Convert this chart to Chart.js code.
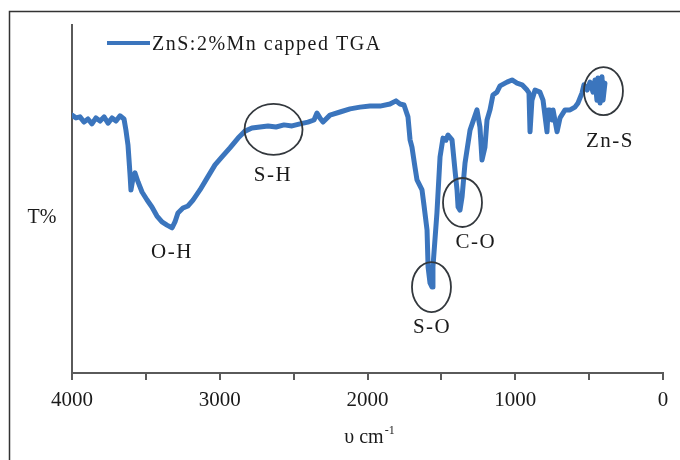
<!DOCTYPE html>
<html>
<head>
<meta charset="utf-8">
<script src="https://cdn.jsdelivr.net/npm/chart.js@4.4.1/dist/chart.umd.min.js"></script>
<style>
  html, body { margin: 0; padding: 0; background: #ffffff; }
  #wrap { width: 680px; height: 460px; position: relative; }
</style>
</head>
<body>
<div id="wrap"><canvas id="c" width="680" height="460"></canvas></div>
<script>
// ---- Data ----
const seriesName = 'ZnS:2%Mn capped TGA';
const wavenumber = [4000,3973,3946,3919,3892,3865,3838,3810,3783,3756,3729,3702,3675,3648,3635,3621,3614,3607,3601,3587,3574,3553,3526,3492,3459,3425,3391,3357,3323,3303,3283,3249,3215,3181,3134,3086,3032,2985,2931,2876,2829,2782,2728,2673,2619,2565,2511,2457,2403,2362,2342,2322,2301,2254,2186,2118,2051,1983,1915,1848,1807,1780,1753,1726,1712,1699,1679,1665,1631,1618,1597,1590,1577,1563,1557,1530,1509,1489,1469,1455,1428,1408,1394,1387,1374,1360,1340,1306,1259,1239,1225,1205,1191,1171,1151,1124,1103,1056,1022,988,954,920,907,900,887,866,833,812,785,778,765,751,744,717,697,663,629,596,575,548,535,514,494,474,460,447,440,426,413,406,393];
const transmittance = [74.1,73.3,73.6,72.1,73.0,71.6,73.3,72.4,73.6,71.8,73.3,72.4,73.9,73.0,69.8,65.5,61.2,56.9,52.6,56.0,57.5,54.9,52.0,49.7,47.7,45.1,43.4,42.5,41.7,43.4,46.0,47.4,48.0,49.7,52.6,56.0,59.8,62.1,64.7,67.5,69.5,70.4,70.7,71.0,70.7,71.3,71.0,71.6,72.1,72.7,74.7,73.3,72.1,74.1,75.0,75.9,76.4,76.7,76.7,77.3,78.2,77.3,77.0,73.6,67.0,64.9,59.2,55.5,52.6,48.3,41.1,30.5,25.9,24.7,30.5,46.0,62.1,67.5,66.9,68.4,67.0,58.3,52.6,47.7,46.8,50.6,60.3,69.8,75.6,70.7,61.2,64.9,72.7,75.6,79.9,80.7,82.5,83.6,84.2,83.3,82.8,81.3,80.5,69.3,78.4,81.3,80.7,78.4,69.3,75.6,75.6,72.7,75.6,69.3,73.3,75.6,75.6,76.4,77.6,80.5,82.8,81.3,83.6,80.7,84.2,78.4,84.8,77.6,85.1,78.4,83.3];
const xTickValues = [4000,3500,3000,2500,2000,1500,1000,500,0];
const xTickLabels = ['4000','','3000','','2000','','1000','','0'];
// Annotated bands: label, circle centre (wavenumber, T%), label anchor (wavenumber, T%)
const bandLabels = ['O-H','S-H','S-O','C-O','Zn-S'];
const bandCircled = [false,true,true,true,true];
const circleX = [null,2636,1567,1357,403];
const circleY = [null,70.0,24.7,49.0,81.0];
const labelX = [3323,2640,1563,1266,359];
const labelY = [34.5,56.9,13.2,37.6,66.4];

// ---- Styles ----
const lineColor = '#3b75bd';
const axisColor = '#5a5a5a';
const textColor = '#1a1a1a';
const serif = "'Liberation Serif', 'DejaVu Serif', serif";
const circleRx = [0,29,19.5,19.5,19.5];
const circleRy = [0,25.5,25,24.5,24];

const decorPlugin = {
  id: 'decor',
  beforeDraw(chart) {
    const ctx = chart.ctx;
    ctx.save();
    ctx.fillStyle = '#ffffff';
    ctx.fillRect(0, 0, chart.width, chart.height);
    // outer frame (left and top)
    ctx.strokeStyle = '#333333';
    ctx.lineWidth = 1.5;
    ctx.beginPath();
    ctx.moveTo(9.5, 460);
    ctx.lineTo(9.5, 11.5);
    ctx.lineTo(680, 11.5);
    ctx.stroke();
    ctx.restore();
  },
  afterDatasetsDraw(chart) {
    const ctx = chart.ctx;
    const xs = chart.scales.x, ys = chart.scales.y;
    const area = chart.chartArea;
    ctx.save();
    // ellipses
    ctx.strokeStyle = '#33383d';
    ctx.lineWidth = 1.8;
    for (let i = 0; i < bandLabels.length; i++) {
      if (!bandCircled[i]) continue;
      const cx = xs.getPixelForValue(circleX[i]);
      const cy = ys.getPixelForValue(circleY[i]);
      ctx.beginPath();
      ctx.ellipse(cx, cy, circleRx[i], circleRy[i], 0, 0, Math.PI * 2);
      ctx.stroke();
    }
    // band labels
    ctx.fillStyle = textColor;
    ctx.font = '21px ' + serif;
    ctx.textAlign = 'center';
    ctx.textBaseline = 'middle';
    try { ctx.letterSpacing = '1.5px'; } catch (e) {}
    for (let i = 0; i < bandLabels.length; i++) {
      ctx.fillText(bandLabels[i], xs.getPixelForValue(labelX[i]), ys.getPixelForValue(labelY[i]));
    }
    // legend
    try { ctx.letterSpacing = '1.5px'; } catch (e) {}
    ctx.strokeStyle = lineColor;
    ctx.lineWidth = 4;
    ctx.lineCap = 'butt';
    ctx.beginPath();
    ctx.moveTo(107, 43);
    ctx.lineTo(150, 43);
    ctx.stroke();
    ctx.font = '20px ' + serif;
    ctx.textAlign = 'left';
    ctx.textBaseline = 'alphabetic';
    ctx.fillText(seriesName, 152, 50);
    try { ctx.letterSpacing = '0px'; } catch (e) {}
    // y title
    ctx.font = '20px ' + serif;
    ctx.textAlign = 'center';
    ctx.textBaseline = 'middle';
    ctx.fillText('T%', 42, 218);
    // x title with superscript
    ctx.textAlign = 'left';
    ctx.textBaseline = 'alphabetic';
    ctx.font = '20px ' + serif;
    const main = 'υ cm';
    const w1 = ctx.measureText(main).width;
    ctx.font = '12px ' + serif;
    const sup = '-1';
    const w2 = ctx.measureText(sup).width;
    const start = (area.left + area.right) / 2 + 2 - (w1 + w2 + 1) / 2;
    ctx.font = '20px ' + serif;
    ctx.fillText(main, start, 443);
    ctx.font = '12px ' + serif;
    ctx.fillText(sup, start + w1 + 1, 434);
    ctx.restore();
  }
};

new Chart(document.getElementById('c'), {
  type: 'line',
  data: {
    datasets: [{
      label: seriesName,
      data: wavenumber.map((w, i) => ({ x: w, y: transmittance[i] })),
      borderColor: lineColor,
      borderWidth: 5,
      borderJoinStyle: 'round',
      borderCapStyle: 'round',
      pointRadius: 0,
      tension: 0,
      fill: false
    }]
  },
  options: {
    responsive: false,
    animation: false,
    devicePixelRatio: 1,
    layout: { padding: { left: 0, top: 25, right: 17, bottom: 0 } },
    plugins: { legend: { display: false }, tooltip: { enabled: false } },
    scales: {
      x: {
        type: 'linear',
        reverse: true,
        min: 0,
        max: 4000,
        afterBuildTicks(scale) { scale.ticks = xTickValues.map(v => ({ value: v })); },
        afterFit(scale) { scale.height = 87; },
        ticks: {
          autoSkip: false,
          maxRotation: 0,
          padding: 8,
          color: textColor,
          font: { family: serif, size: 21 },
          callback: (v) => { const i = xTickValues.indexOf(v); return i >= 0 ? xTickLabels[i] : ''; }
        },
        grid: { display: true, drawOnChartArea: false, drawTicks: true, tickLength: 7, color: axisColor, lineWidth: 2 },
        border: { display: true, color: axisColor, width: 2 }
      },
      y: {
        type: 'linear',
        min: 0,
        max: 100,
        afterFit(scale) { scale.width = 72; },
        ticks: { display: false },
        grid: { display: false },
        border: { display: true, color: axisColor, width: 2 }
      }
    }
  },
  plugins: [decorPlugin]
});
</script>
</body>
</html>
